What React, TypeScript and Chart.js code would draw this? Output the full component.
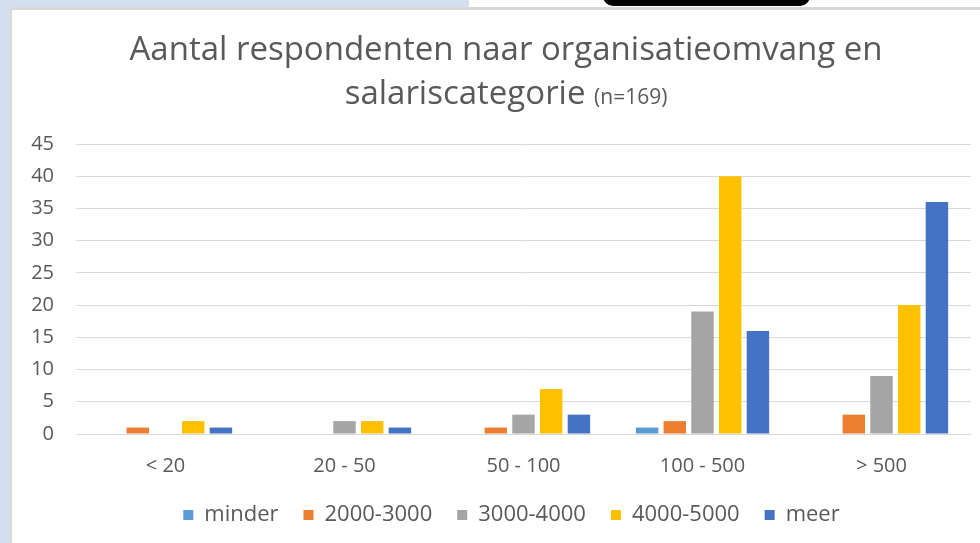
import React, { useEffect, useRef } from "react";
import { Chart, registerables } from "chart.js";

Chart.register(...registerables);

const categories = ["< 20", "20 - 50", "50 - 100", "100 - 500", "> 500"];
const seriesNames = ["minder", "2000-3000", "3000-4000", "4000-5000", "meer"];
const minder = [0, 0, 0, 1, 0];
const s2000_3000 = [1, 0, 1, 2, 3];
const s3000_4000 = [0, 2, 3, 19, 9];
const s4000_5000 = [2, 2, 7, 40, 20];
const meer = [1, 1, 3, 16, 36];
const seriesColors = ["#5B9BD5", "#ED7D31", "#A5A5A5", "#FFC000", "#4472C4"];
const titleLine1 = "Aantal respondenten naar organisatieomvang en";
const titleLine2 = "salariscategorie";
const titleSuffix = "(n=169)";

const TEXT = "#595959";
const FONT = '"Open Sans", "DejaVu Sans", sans-serif';

const titlePlugin = {
  id: "customTitle",
  afterLayout(chart: any) {
    if (chart.legend) {
      chart.legend.left += 20;
      chart.legend.right += 20;
    }
  },
  afterDraw(chart: any) {
    const ctx = chart.ctx;
    ctx.save();
    ctx.fillStyle = TEXT;
    ctx.textBaseline = "alphabetic";
    const cx = 494;
    ctx.font = `33px ${FONT}`;
    ctx.textAlign = "center";
    ctx.fillText(titleLine1, cx, 50);
    ctx.textAlign = "left";
    const w1 = ctx.measureText(titleLine2 + " ").width;
    ctx.font = `21px ${FONT}`;
    const w2 = ctx.measureText(titleSuffix).width;
    const start = cx - (w1 + w2) / 2;
    ctx.font = `33px ${FONT}`;
    ctx.fillText(titleLine2 + " ", start, 94);
    ctx.font = `21px ${FONT}`;
    ctx.fillText(titleSuffix, start + w1, 94);
    ctx.restore();
  },
};

export default function App() {
  const ref = useRef<HTMLCanvasElement | null>(null);
  useEffect(() => {
    if (!ref.current) return;
    const values = [minder, s2000_3000, s3000_4000, s4000_5000, meer];
    const chart = new Chart(ref.current, {
      type: "bar",
      data: {
        labels: categories,
        datasets: seriesNames.map((name, i) => ({
          label: name,
          data: values[i],
          backgroundColor: seriesColors[i],
          borderWidth: 0,
          categoryPercentage: 0.774,
          barPercentage: 0.81,
        })),
      },
      plugins: [titlePlugin],
      options: {
        animation: false,
        responsive: false,
        devicePixelRatio: 1,
        layout: { padding: { top: 134, left: 0, right: 9, bottom: 7 } },
        plugins: {
          title: { display: false },
          tooltip: { enabled: false },
          legend: {
            position: "bottom",
            align: "center",
            labels: {
              boxWidth: 10,
              boxHeight: 10,
              padding: 25,
              color: TEXT,
              font: { family: FONT, size: 22 },
            },
          },
        },
        scales: {
          x: {
            grid: { display: false },
            border: { display: false },
            ticks: {
              color: TEXT,
              font: { family: FONT, size: 20 },
              padding: 12,
              maxRotation: 0,
            },
            afterFit: (s: any) => {
              s.height = 45;
            },
          },
          y: {
            min: 0,
            max: 45,
            border: { display: false },
            grid: { color: "#d9d9d9", lineWidth: 1, drawTicks: false },
            ticks: {
              stepSize: 5,
              color: TEXT,
              font: { family: FONT, size: 20 },
              padding: 22,
            },
            afterFit: (s: any) => {
              s.width = 64;
            },
          },
        },
      },
    });
    return () => chart.destroy();
  }, []);

  return (
    <div
      style={{
        position: "fixed",
        left: 0,
        top: 0,
        width: 980,
        height: 543,
        background: "#ffffff",
        overflow: "hidden",
      }}
    >
      <div style={{ position: "absolute", left: 0, top: 0, width: 10, height: 543, background: "#d3deef" }} />
      <div style={{ position: "absolute", left: 0, top: 0, width: 469, height: 8, background: "#d3deef" }} />
      <div style={{ position: "absolute", left: 10, top: 7, width: 970, height: 3, background: "#d9d9d9" }} />
      <div style={{ position: "absolute", left: 10, top: 8, width: 2, height: 535, background: "#d9d9d9" }} />
      <div
        style={{
          position: "absolute",
          left: 603,
          top: -4,
          width: 207,
          height: 10,
          background: "#000000",
          borderBottomLeftRadius: 14,
          borderBottomRightRadius: 14,
        }}
      />
      <canvas
        ref={ref}
        width={968}
        height={533}
        style={{ position: "absolute", left: 12, top: 10, width: 968, height: 533 }}
      />
    </div>
  );
}
